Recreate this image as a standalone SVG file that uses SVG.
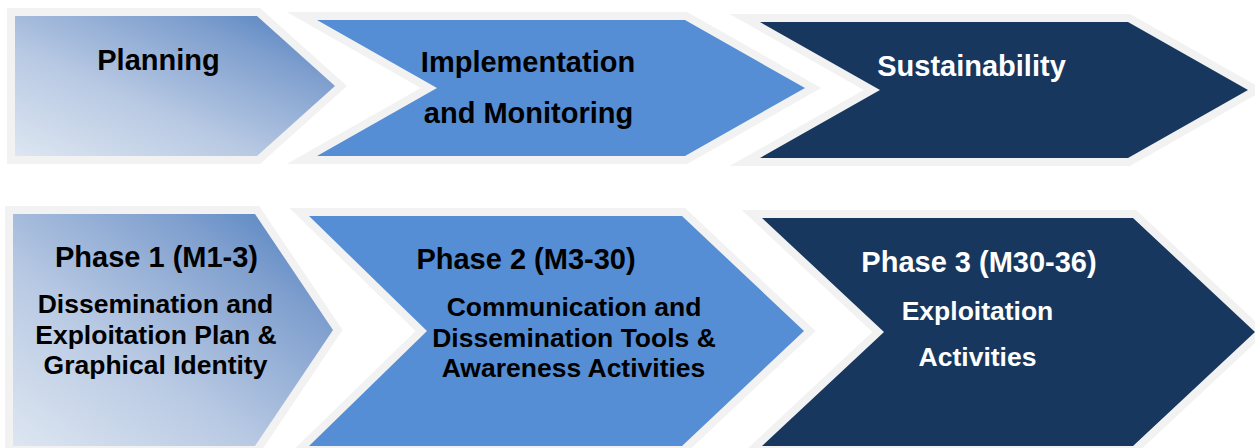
<svg xmlns="http://www.w3.org/2000/svg" width="1255" height="448" viewBox="0 0 1255 448">
  <defs>
    <linearGradient id="gradPlan" x1="0" y1="1" x2="1" y2="0">
      <stop offset="0" stop-color="#dde6f1"/>
      <stop offset="0.38" stop-color="#b8c9e3"/>
      <stop offset="0.75" stop-color="#7f9fce"/>
      <stop offset="0.9" stop-color="#5f8bc5"/>
      <stop offset="1" stop-color="#5584c2"/>
    </linearGradient>
    <style>
      .shape { stroke: #f2f2f2; stroke-width: 16; stroke-linejoin: miter; stroke-miterlimit: 10; paint-order: stroke; }
      .s1 { fill: url(#gradPlan); }
      .s2 { fill: #558ed5; }
      .s3 { fill: #17375e; }
      text { font-family: "Liberation Sans", Arial, sans-serif; font-weight: bold; text-anchor: middle; }
      .dark { fill: #000000; }
      .light { fill: #ffffff; }
      .title { font-size: 29px; }
      .sub { font-size: 26.5px; }
    </style>
  </defs>
  <rect width="1255" height="448" fill="#ffffff"/>

  <g id="planning">
    <polygon class="shape s1" points="15,16 257,16 335,86 257,156 15,156"/>
    <text class="title dark" x="158.5" y="70">Planning</text>
  </g>

  <g id="implementation">
    <polygon class="shape s2" points="317,20 685,20 805,88 685,156 317,156 437,88"/>
    <text class="title dark" x="528" y="72">Implementation</text>
    <text class="title dark" x="528.5" y="123">and Monitoring</text>
  </g>

  <g id="sustainability">
    <polygon class="shape s3" points="760,22 1128,22 1248,90 1128,158 760,158 880,90"/>
    <text class="title light" x="971.5" y="76">Sustainability</text>
  </g>

  <g id="phase1">
    <polygon class="shape s1" points="13,214 255,214 333,330 255,446 13,446"/>
    <text class="title dark" x="156.5" y="267">Phase 1 (M1-3)</text>
    <text class="sub dark" x="155.5" y="313">Dissemination and</text>
    <text class="sub dark" x="156" y="344">Exploitation Plan &amp;</text>
    <text class="sub dark" x="155.5" y="374">Graphical Identity</text>
  </g>

  <g id="phase2">
    <polygon class="shape s2" points="309,216 682,216 804,331 682,446 309,446 427,331"/>
    <text class="title dark" x="526" y="269">Phase 2 (M3-30)</text>
    <text class="sub dark" x="574" y="316">Communication and</text>
    <text class="sub dark" x="574" y="347">Dissemination Tools &amp;</text>
    <text class="sub dark" x="573.5" y="377">Awareness Activities</text>
  </g>

  <g id="phase3">
    <polygon class="shape s3" points="762,218 1133,218 1255,332 1133,446 762,446 884,332"/>
    <text class="title light" x="979" y="272">Phase 3 (M30-36)</text>
    <text class="sub light" x="977.5" y="320">Exploitation</text>
    <text class="sub light" x="977.5" y="366">Activities</text>
  </g>

  <g id="connectors"/>
</svg>
